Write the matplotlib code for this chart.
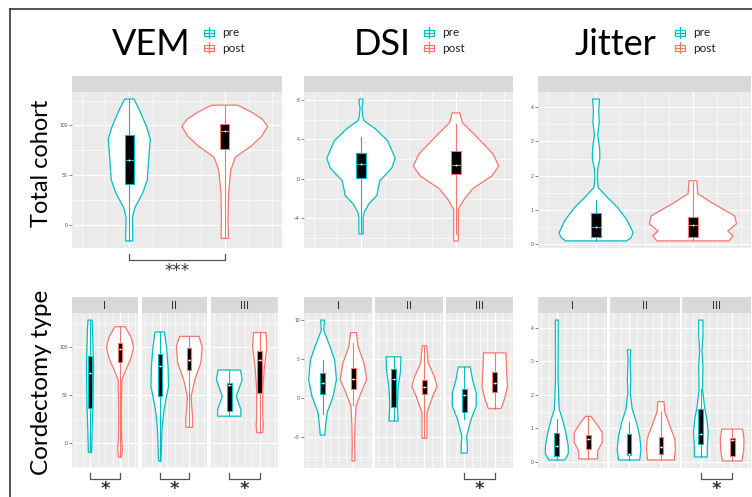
import matplotlib
matplotlib.use("Agg")
import matplotlib.pyplot as plt
from matplotlib.patches import Rectangle
from matplotlib.lines import Line2D
import numpy as np

plt.rcParams['font.family'] = ['Lato', 'DejaVu Sans']

PRE = "#00BFC4"
POST = "#F8766D"
GREY = "#555555"

types = ["I", "II", "III"]

# violin outlines: (value, relative density), top to bottom; box: (lo, q1, median, q3, hi)
vem_total_pre = [(126.5, 0.11), (116, 0.23), (99, 0.40), (86, 0.49), (65, 0.45), (45, 0.42),
                 (31.6, 0.31), (17, 0.13), (7, 0.075), (-5, 0.08), (-16.5, 0.084)]
vem_total_post = [(120.4, 0.30), (116, 0.50), (113, 0.64), (106, 0.88), (99, 1.0), (89, 0.86),
                  (79, 0.61), (68, 0.25), (55, 0.14), (32, 0.09), (4, 0.075), (-6, 0.084), (-14, 0.084)]
vem_total_pre_box = [-16.5, 41, 65, 90, 126.5]
vem_total_post_box = [-14, 76, 94, 101, 120.4]

dsi_total_pre = [(8.1, 0.045), (7.8, 0.045), (7.2, 0.022), (6.3, 0.04), (5.9, 0.073), (5.1, 0.33),
                 (3.9, 0.62), (2.1, 0.80), (1.1, 0.72), (-0.2, 0.44), (-1.0, 0.40), (-1.7, 0.37),
                 (-2.5, 0.19), (-3.4, 0.073), (-3.9, 0.05), (-5.6, 0.05)]
dsi_total_post = [(6.7, 0.09), (5.7, 0.15), (4.2, 0.5), (2.5, 0.87), (1.3, 1.0), (0.3, 0.84),
                  (-1.0, 0.39), (-2.2, 0.17), (-3.1, 0.055), (-6.3, 0.055)]
dsi_total_pre_box = [-5.5, 0.1, 1.5, 2.6, 4.2]
dsi_total_post_box = [-5.6, 0.5, 1.4, 2.85, 5.6]

jit_total_pre = [(4.24, 0.08), (3.9, 0.06), (3.56, 0.072), (3.2, 0.037), (2.8, 0.08), (2.5, 0.087),
                 (2.2, 0.037), (1.95, 0.028), (1.65, 0.048), (1.35, 0.27), (1.06, 0.5), (0.68, 0.72),
                 (0.33, 0.85), (0.18, 0.80), (0.09, 0.70)]
jit_total_post = [(1.85, 0.09), (1.47, 0.11), (1.18, 0.47), (0.82, 0.96), (0.59, 1.0), (0.38, 0.80),
                  (0.24, 0.92), (0.09, 0.83)]
jit_total_pre_box = [0.09, 0.2, 0.5, 0.9, 1.3]
jit_total_post_box = [0.09, 0.21, 0.56, 0.8, 1.82]

vem_type_pre = {
    "I": [(128, 0.15), (117.5, 0.19), (100, 0.22), (79, 0.26), (66, 0.25), (38, 0.22), (14, 0.16), (-9.6, 0.12)],
    "II": [(115.5, 0.36), (100, 0.51), (79, 0.63), (59, 0.66), (48.5, 0.51), (31.6, 0.29), (14.4, 0.17), (-18.6, 0.09)],
    "III": [(76, 0.82), (66, 0.94), (48.5, 0.51), (35, 0.85), (28, 0.85)],
}
vem_type_post = {
    "I": [(121, 0.39), (110, 0.82), (100, 1.0), (88.5, 0.82), (76, 0.43), (66, 0.14), (31.6, 0.09),
          (4, 0.12), (-6, 0.17), (-14.4, 0.12)],
    "II": [(111, 0.73), (100, 0.97), (83.5, 0.87), (66, 0.42), (48.5, 0.14), (37, 0.19), (25, 0.26), (16.5, 0.26)],
    "III": [(115, 0.46), (100, 0.52), (79, 0.34), (55.7, 0.22), (31.6, 0.22), (17.5, 0.26), (11, 0.22)],
}
vem_type_pre_box = {"I": [-9.6, 36, 73, 91, 128], "II": [-18.6, 49, 80.6, 93, 115.5], "III": [28, 33, 60, 63, 76]}
vem_type_post_box = {"I": [-14.4, 84.5, 98, 104, 121], "II": [16.5, 76, 86.6, 98.6, 111], "III": [11, 52.6, 86.6, 96, 115]}

dsi_type_pre = {
    "I": [(10, 0.13), (9.4, 0.12), (8.7, 0.085), (6.6, 0.54), (4.9, 0.87), (2.4, 1.0), (0.25, 0.76),
          (-1.8, 0.33), (-3.5, 0.22), (-4.7, 0.16)],
    "II": [(5.3, 0.54), (3.3, 0.49), (1.5, 0.33), (-1.0, 0.27), (-2.9, 0.33)],
    "III": [(4.0, 0.44), (2.4, 0.6), (0.7, 0.87), (-1.0, 0.87), (-2.7, 0.49), (-4.8, 0.18), (-6.1, 0.22), (-7.0, 0.22)],
}
dsi_type_post = {
    "I": [(8.4, 0.2), (6.6, 0.33), (4.5, 0.76), (2.4, 0.95), (0.7, 0.54), (-1.0, 0.18), (-3.5, 0.11),
          (-6.1, 0.085), (-8.0, 0.11)],
    "II": [(6.7, 0.16), (4.5, 0.27), (2.8, 0.71), (1.5, 0.9), (0.3, 0.6), (-1.8, 0.18), (-5.1, 0.18)],
    "III": [(5.8, 0.82), (4.1, 0.85), (1.5, 0.93), (-0.1, 0.71), (-1.3, 0.47)],
}
dsi_type_pre_box = {"I": [-2.0, 0.6, 2.0, 3.2, 4.9], "II": [-2.9, -1.1, 2.5, 3.7, 5.3], "III": [-2.6, -1.7, 0.4, 1.2, 4.0]}
dsi_type_post_box = {"I": [-0.8, 1.2, 2.5, 3.9, 7.1], "II": [-5.0, 0.5, 1.5, 2.4, 6.5], "III": [-1.3, 0.8, 2.0, 3.4, 5.8]}

jit_type_pre = {
    "I": [(4.23, 0.10), (2.46, 0.09), (1.57, 0.17), (1.27, 0.4), (0.89, 0.63), (0.47, 0.81), (0.24, 0.81), (0.06, 0.57)],
    "II": [(3.34, 0.12), (3.05, 0.07), (2.46, 0.12), (2.07, 0.08), (1.57, 0.22), (1.18, 0.52), (0.77, 0.74),
           (0.38, 0.83), (0.06, 0.74)],
    "III": [(4.23, 0.15), (3.73, 0.15), (3.34, 0.08), (2.84, 0.15), (2.16, 0.12), (1.66, 0.26), (1.27, 0.43),
            (0.89, 0.52), (0.47, 0.46), (0.15, 0.46)],
}
jit_type_post = {
    "I": [(1.36, 0.19), (1.18, 0.52), (0.89, 0.98), (0.59, 1.0), (0.33, 0.67), (0.09, 0.67)],
    "II": [(1.8, 0.21), (1.48, 0.28), (1.07, 0.63), (0.68, 0.97), (0.38, 1.0), (0.06, 0.94)],
    "III": [(0.98, 0.74), (0.68, 0.84), (0.33, 0.81), (0.03, 0.69)],
}
jit_type_pre_box = {"I": [0.06, 0.18, 0.47, 0.86, 1.27], "II": [0.06, 0.21, 0.24, 0.83, 1.2], "III": [0.15, 0.53, 0.83, 1.57, 2.16]}
jit_type_post_box = {"I": [0.09, 0.38, 0.68, 0.8, 1.36], "II": [0.06, 0.24, 0.44, 0.74, 1.5], "III": [0.03, 0.18, 0.65, 0.71, 0.98]}

W, H = 752, 497
fig = plt.figure(figsize=(W / 100, H / 100), dpi=100)
fig.patch.set_facecolor("white")


def px_rect(x0, y0, x1, y1):
    return [x0 / W, 1 - y1 / H, (x1 - x0) / W, (y1 - y0) / H]


def violin(ax, xc, profile, stats, color, box_w):
    vals = [p[0] for p in profile]
    half = [p[1] * 0.45 for p in profile]
    xs = [xc + h for h in half] + [xc - h for h in half[::-1]]
    ys = vals + vals[::-1]
    ax.fill(xs, ys, facecolor="white", edgecolor=color, lw=0.9, joinstyle="round", zorder=3)
    lo, q1, med, q3, hi = stats
    ax.plot([xc, xc], [lo, hi], color=color, lw=0.8, zorder=4)
    ax.add_patch(Rectangle((xc - box_w / 2, q1), box_w, q3 - q1, facecolor="black",
                           edgecolor=color, lw=0.8, zorder=5))
    ax.plot([xc - box_w / 2, xc + box_w / 2], [med, med], color=color, lw=0.8, zorder=6)
    ax.plot(xc, med, "o", ms=1.4, mec="none", color="white", zorder=7)


def ylimits(profiles):
    vals = [v for prof in profiles for v, _ in prof]
    lo, hi = min(vals), max(vals)
    pad = (hi - lo) * 0.05
    return lo - pad, hi + pad


def panel(x0, y0, x1, y1, ylim, yticks, label=None, show_y=True):
    ax = fig.add_axes(px_rect(x0, y0, x1, y1))
    ax.set_facecolor("#EBEBEB")
    ax.set_xlim(0.4, 2.6)
    ax.set_ylim(*ylim)
    for s in ax.spines.values():
        s.set_visible(False)
    step = yticks[1] - yticks[0]
    minor = [m for m in np.arange(yticks[0] - step / 2, ylim[1], step) if ylim[0] < m < ylim[1]]
    ax.set_yticks(yticks)
    ax.set_yticks(minor, minor=True)
    ax.set_xticks([1, 2])
    ax.set_xticks([0.5, 0.75, 1.25, 1.5, 1.75, 2.25, 2.5], minor=True)
    ax.grid(which="major", color="white", lw=0.9)
    ax.grid(which="minor", color="white", lw=0.45)
    ax.set_axisbelow(True)
    ax.tick_params(axis="x", which="both", length=0, labelbottom=False)
    ax.tick_params(axis="y", which="minor", length=0)
    if show_y:
        ax.tick_params(axis="y", which="major", length=2, width=0.5, color=GREY,
                       labelsize=3.5, labelcolor=GREY, pad=1)
    else:
        ax.tick_params(axis="y", which="major", length=0, labelleft=False)
    strip = fig.add_axes(px_rect(x0, y0 - 16, x1, y0))
    strip.set_facecolor("#D9D9D9")
    strip.set_xticks([])
    strip.set_yticks([])
    for s in strip.spines.values():
        s.set_visible(False)
    if label:
        strip.text(0.5, 0.45, label, ha="center", va="center", fontsize=8,
                   color="#333333", transform=strip.transAxes)
    return ax


def bracket(ax, text, y_line, y_tick, y_text, size, weight="normal"):
    tr = ax.get_xaxis_transform()
    ax.plot([1, 1, 2, 2], [y_tick, y_line, y_line, y_tick], color=GREY, lw=0.9,
            transform=tr, clip_on=False)
    ax.text(1.5, y_text, text, ha="center", va="center", fontsize=size, color="#333333",
            family="DejaVu Sans", fontweight=weight, transform=tr, clip_on=False)


# top row: whole cohort
top_y0, top_y1 = 92, 248
top_panels = [
    (72, 282, [vem_total_pre, vem_total_post], [vem_total_pre_box, vem_total_post_box], [0, 50, 100]),
    (304, 513, [dsi_total_pre, dsi_total_post], [dsi_total_pre_box, dsi_total_post_box], [-4, 0, 4, 8]),
    (538, 751, [jit_total_pre, jit_total_post], [jit_total_pre_box, jit_total_post_box], [0, 1, 2, 3, 4]),
]
top_axes = []
for x0, x1, profs, boxes, ticks in top_panels:
    ax = panel(x0, top_y0, x1, top_y1, ylimits(profs), ticks)
    violin(ax, 1, profs[0], boxes[0], PRE, 0.1)
    violin(ax, 2, profs[1], boxes[1], POST, 0.1)
    top_axes.append(ax)

bracket(top_axes[0], "***", -0.077, -0.038, -0.145, 12)

# bottom row: by cordectomy type
bot_y0, bot_y1 = 313, 468
bottom_panels = [
    ([(72, 138), (142, 207), (211, 278)], vem_type_pre, vem_type_post,
     vem_type_pre_box, vem_type_post_box, [0, 50, 100], ["I", "II", "III"]),
    ([(304, 372), (375, 443), (446, 513)], dsi_type_pre, dsi_type_post,
     dsi_type_pre_box, dsi_type_post_box, [-5, 0, 5, 10], ["III"]),
    ([(538, 607), (610, 680), (682, 751)], jit_type_pre, jit_type_post,
     jit_type_pre_box, jit_type_post_box, [0, 1, 2, 3, 4], ["III"]),
]
for spans, pre, post, pre_box, post_box, ticks, sig in bottom_panels:
    lim = ylimits(list(pre.values()) + list(post.values()))
    for i, (t, (x0, x1)) in enumerate(zip(types, spans)):
        ax = panel(x0, bot_y0, x1, bot_y1, lim, ticks, label=t, show_y=(i == 0))
        violin(ax, 1, pre[t], pre_box[t], PRE, 0.15)
        violin(ax, 2, post[t], post_box[t], POST, 0.15)
        if t in sig:
            bracket(ax, "*", -0.071, -0.032, -0.135, 13, "bold")

# titles with small boxplot keys
titles = [("VEM", 151, 209), ("DSI", 382, 429), ("Jitter", 615, 680)]
for name, tx, kx in titles:
    fig.text(tx / W, 1 - 55 / H, name, ha="center", va="baseline", fontsize=26, color="black")
    for ky, lab, col in [(33, "pre", PRE), (48, "post", POST)]:
        key = fig.add_axes(px_rect(kx - 6, ky - 6, kx + 6, ky + 6))
        key.set_xlim(0, 1)
        key.set_ylim(0, 1)
        key.axis("off")
        key.plot([0.5, 0.5], [0, 1], color=col, lw=0.9)
        key.add_patch(Rectangle((0.12, 0.25), 0.76, 0.5, facecolor="white", edgecolor=col, lw=0.9))
        key.plot([0.12, 0.88], [0.5, 0.5], color=col, lw=0.9)
        fig.text((kx + 13) / W, 1 - ky / H, lab, ha="left", va="center", fontsize=8.5, color="#222222")

# row labels
fig.text(41 / W, 1 - 163 / H, "Total cohort", rotation=90, ha="center", va="center", fontsize=17)
fig.text(42 / W, 1 - 382 / H, "Cordectomy type", rotation=90, ha="center", va="center", fontsize=17.5)

# frame lines on the top and left edges
fig.add_artist(Line2D([10 / W, 10 / W], [0, 1 - 9 / H], color="#444444", lw=1.3))
fig.add_artist(Line2D([10 / W, 1], [1 - 9 / H, 1 - 9 / H], color="#444444", lw=1.3))

fig.savefig("out.png", dpi=100, facecolor="white")
